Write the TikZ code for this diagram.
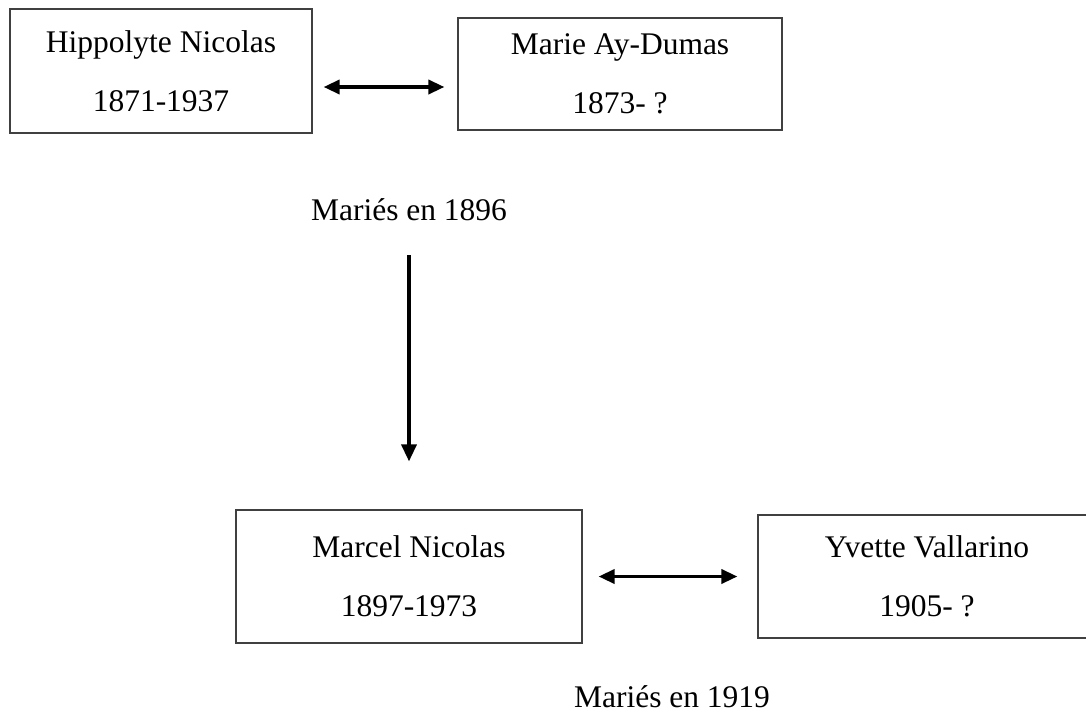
\documentclass[tikz,border=0pt]{standalone}
\usepackage{fontspec}
\setmainfont{Liberation Serif}
\usetikzlibrary{arrows.meta}

\tikzset{
  pers/.style={draw=black!75, line width=1.2pt, align=center, inner sep=0pt,
    font=\fontsize{31.5}{59}\selectfont},
  txt/.style={inner sep=0pt, font=\fontsize{31.5}{38}\selectfont},
  fl/.style={line width=3.5pt, -{Triangle[length=17pt,width=15pt]}},
  mar/.style={line width=3.5pt, {Triangle[length=16pt,width=14pt]}-{Triangle[length=16pt,width=14pt]}}
}

\begin{document}
\begin{tikzpicture}[x=1pt,y=-1pt]
  \useasboundingbox (0,0) rectangle (1086,715);
  % couple 1
  \node[pers, minimum width=302pt, minimum height=124pt] (hn) at (161,71) {Hippolyte Nicolas\\1871-1937};
  \node[pers, minimum width=324pt, minimum height=112pt] (mad) at (620,74) {Marie Ay-Dumas\\1873- ?};
  \node[txt] (m1) at (409,210) {Mariés en 1896};
  % couple 2
  \node[pers, minimum width=346pt, minimum height=133pt] (mn) at (409,576.5) {Marcel Nicolas\\1897-1973};
  \node[pers, minimum width=338pt, minimum height=123pt] (yv) at (927,576.5) {Yvette Vallarino\\1905- ?};
  \node[txt] (m2) at (672,697) {Mariés en 1919};

  \draw[mar, shorten <=11pt, shorten >=13pt] ([yshift=-16pt]hn.east) -- ([yshift=-13pt]mad.west);
  \draw[fl, shorten <=34pt, shorten >=48pt] (m1.south) -- (mn.north);
  \draw[mar, shorten <=16pt, shorten >=20pt] (mn.east) -- (yv.west);
\end{tikzpicture}
\end{document}
